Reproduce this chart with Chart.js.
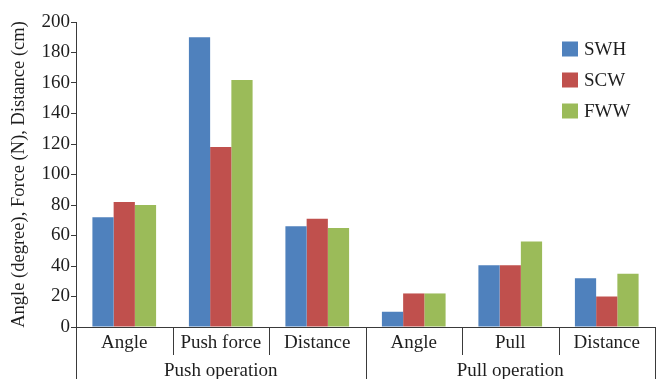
<!DOCTYPE html>
<html><head><meta charset="utf-8">
<script src="https://cdn.jsdelivr.net/npm/chart.js@4/dist/chart.umd.min.js"></script>
<style>html,body{margin:0;padding:0;background:#fff}#wrap{width:660px;height:379px}</style>
</head><body><div id="wrap"><canvas id="c" width="660" height="379"></canvas></div>
<script>
// Measurements per operation and wheelchair type
const categories = ['Angle', 'Push force', 'Distance', 'Angle', 'Pull', 'Distance'];
const groups = ['Push operation', 'Pull operation'];
const groupSizes = [3, 3];
const seriesNames = ['SWH', 'SCW', 'FWW'];
const swh = [72, 190, 66, 10, 40.5, 32];
const scw = [82, 118, 71, 22, 40.5, 20];
const fww = [80, 162, 65, 22, 56, 35];
const yTicks = [0, 20, 40, 60, 80, 100, 120, 140, 160, 180, 200];
const yTitle = 'Angle (degree), Force (N), Distance (cm)';

const colors = ['#4F81BD', '#C0504D', '#9BBB59'];
const FONT = '"Liberation Serif", "Times New Roman", serif';
const AXIS = '#3a3a3a';
const TEXT = '#1e1e1e';

// Two-level category axis (dividers + group names) and the boxed legend
const decorations = {
  id: 'decorations',
  afterDraw(chart) {
    const ctx = chart.ctx;
    const x = chart.scales.x;
    const area = chart.chartArea;
    const y0 = area.bottom;
    const n = categories.length;
    const half = (x.getPixelForValue(1) - x.getPixelForValue(0)) / 2;
    ctx.save();
    ctx.strokeStyle = AXIS;
    ctx.lineWidth = 1;
    // group boundaries
    const boundaries = [0];
    let acc = 0;
    groupSizes.forEach(s => { acc += s; boundaries.push(acc); });
    for (let i = 0; i <= n; i++) {
      const px = Math.round(x.getPixelForValue(i) - half) + 0.5;
      const isGroupEdge = boundaries.includes(i);
      ctx.beginPath();
      ctx.moveTo(px, y0);
      ctx.lineTo(px, isGroupEdge ? chart.height : y0 + 28);
      ctx.stroke();
    }
    // category names
    ctx.fillStyle = TEXT;
    ctx.font = '19px ' + FONT;
    ctx.textAlign = 'center';
    ctx.textBaseline = 'middle';
    categories.forEach((c, i) => ctx.fillText(c, x.getPixelForValue(i), y0 + 16));
    // group labels
    for (let g = 0; g < groups.length; g++) {
      const a = x.getPixelForValue(boundaries[g]) - half;
      const b = x.getPixelForValue(boundaries[g + 1]) - half;
      ctx.fillText(groups[g], (a + b) / 2, y0 + 44);
    }
    // legend
    ctx.textAlign = 'left';
    chart.data.datasets.forEach((ds, i) => {
      const cy = 49 + i * 31;
      ctx.fillStyle = ds.backgroundColor;
      ctx.fillRect(562, cy - 7.5, 16, 15);
      ctx.fillStyle = TEXT;
      ctx.fillText(ds.label, 584, cy + 1);
    });
    ctx.restore();
  }
};

new Chart(document.getElementById('c'), {
  type: 'bar',
  data: {
    labels: categories,
    datasets: [swh, scw, fww].map((d, i) => ({
      label: seriesNames[i],
      data: d,
      backgroundColor: colors[i],
      borderWidth: 0,
      categoryPercentage: 0.66,
      barPercentage: 1.0
    }))
  },
  options: {
    responsive: false,
    animation: false,
    layout: { padding: { top: 22, right: 5, left: 0, bottom: 0 } },
    plugins: { legend: { display: false }, tooltip: { enabled: false } },
    scales: {
      x: {
        grid: { display: false, drawTicks: false },
        border: { display: true, color: AXIS, width: 1 },
        ticks: { display: false },
        afterFit(s) { s.height = 52; }
      },
      y: {
        min: 0, max: 200,
        afterBuildTicks(s) { s.ticks = yTicks.map(v => ({ value: v })); },
        grid: { drawOnChartArea: false, drawTicks: true, tickLength: 5, color: AXIS },
        border: { display: true, color: AXIS, width: 1 },
        ticks: { color: TEXT, font: { family: FONT, size: 19 }, padding: 1 },
        title: { display: true, text: yTitle, color: TEXT, font: { family: FONT, size: 18.5 }, padding: { top: 8, bottom: 0 } },
        afterFit(s) { s.width = 76; }
      }
    }
  },
  plugins: [decorations]
});
</script>
</body></html>
